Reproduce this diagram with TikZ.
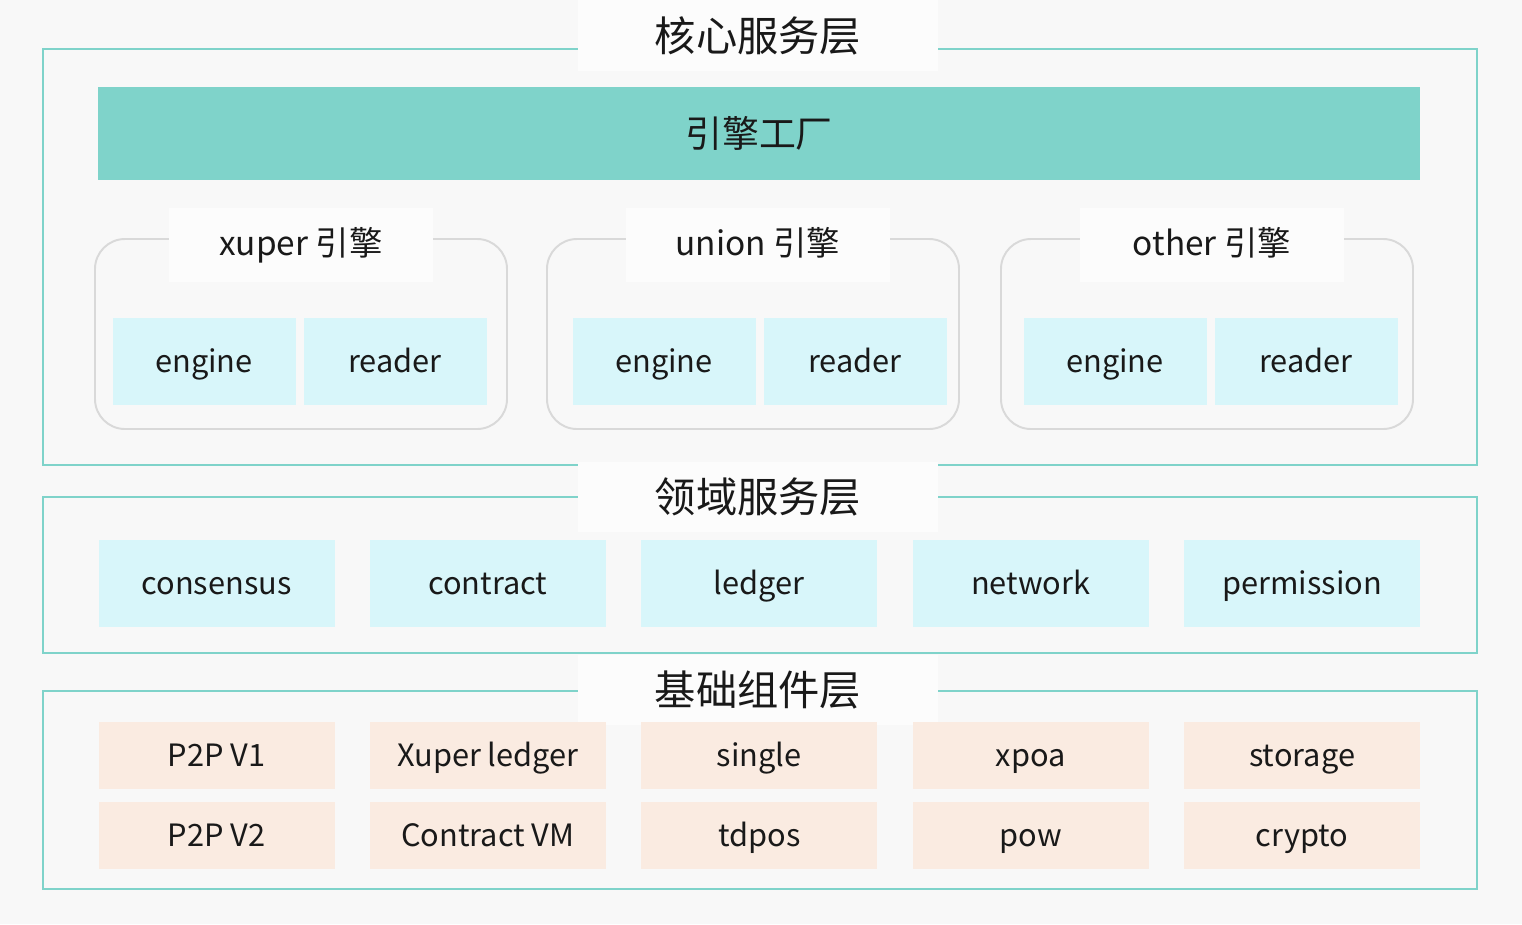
\documentclass[tikz,border=0pt]{standalone}
\usepackage{fontspec}
\setmainfont{Noto Sans CJK SC}
\usetikzlibrary{positioning}

\definecolor{layerline}{HTML}{7FD3CA}
\definecolor{subfill}{HTML}{D8F6FA}
\definecolor{basefill}{HTML}{FAEBE1}
\definecolor{grpline}{HTML}{D9D9D9}
\definecolor{pagebg}{HTML}{F8F8F8}
\definecolor{lblbg}{HTML}{FCFCFC}
\newcommand{\px}{0.02cm}

\tikzset{
  layframe/.style = {draw=layerline, line width=1.1pt},
  laytitle/.style = {fill=lblbg, minimum width=360*\px, minimum height=71*\px,
                  font=\fontsize{23.5}{26}\selectfont},
  factory/.style = {fill=layerline, minimum width=1322*\px, minimum height=93*\px,
                    font=\fontsize{21}{24}\selectfont},
  engrp/.style = {draw=grpline, line width=1.1pt, rounded corners=0.6cm,
                  minimum width=412*\px, minimum height=190*\px},
  glabel/.style = {fill=lblbg, minimum width=264*\px, minimum height=74*\px,
                   font=\fontsize{19}{22}\selectfont, text depth=4.2pt},
  latin/.style = {font=\fontsize{17.5}{20}\selectfont, text height=12.6pt, text depth=0pt},
  subbox/.style = {latin, fill=subfill, minimum width=183*\px, minimum height=87*\px},
  dombox/.style = {latin, fill=subfill, minimum width=236*\px, minimum height=87*\px},
  compbox/.style = {latin, fill=basefill, minimum width=236*\px, minimum height=67*\px}
}

\begin{document}
\begin{tikzpicture}[x=0.02cm, y=-0.02cm, every node/.style={inner sep=0, outer sep=0, text=black!90}]
  \fill[pagebg] (0,0) rectangle (1522,924);
  \useasboundingbox (0,0) rectangle (1522,924);

  % core service layer
  \draw[layframe] (43,49) rectangle (1477,465);
  \node[laytitle] (core) at (758,35.5) {核心服务层};
  \node[factory] (fac) at (759,133) {引擎工厂};

  \foreach \nm/\lbl/\cx/\lx/\ex in {x/xuper/301/301/204, u/union/753/758/664, o/other/1207/1212/1115} {
    \node[engrp] (\nm grp) at (\cx,334) {};
    \node[glabel] (\nm lbl) at (\lx,245) {\lbl\ 引擎};
    \node[subbox] (\nm eng) at (\ex,361.5) {engine};
    \node[subbox, right=0.16cm of \nm eng] (\nm rd) {reader};
  }

  % domain service layer
  \draw[layframe] (43,497) rectangle (1477,653);
  \node[laytitle, minimum height=70*\px] (dom) at (758,497) {领域服务层};
  \foreach \t [count=\i from 0] in {consensus, contract, ledger, network, permission}
    \node[dombox] (dom\i) at (216.5+271.4*\i,583.5) {\t};

  % base component layer
  \draw[layframe] (43,691) rectangle (1477,889);
  \node[laytitle, minimum height=70*\px] (base) at (758,690) {基础组件层};
  \foreach \ta/\tb [count=\i from 0] in {P2P V1/P2P V2, Xuper ledger/Contract VM,
      single/tdpos, xpoa/pow, storage/crypto} {
    \node[compbox] (up\i) at (216.5+271.4*\i,755.5) {\ta};
    \node[compbox] (lo\i) at (216.5+271.4*\i,835.5) {\tb};
  }
\end{tikzpicture}
\end{document}
